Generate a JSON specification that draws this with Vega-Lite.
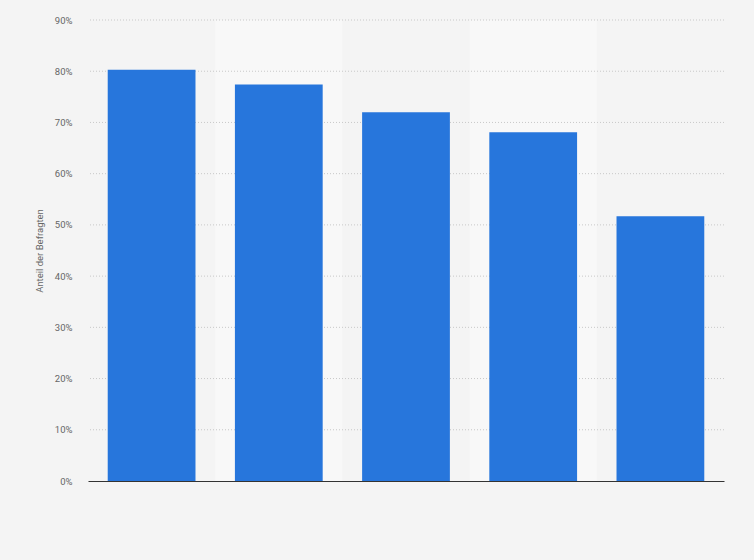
{
  "$schema": "https://vega.github.io/schema/vega-lite/v6.json",
  "autosize": "none",
  "width": 636,
  "height": 461,
  "padding": {"left": 88, "top": 20, "right": 30, "bottom": 79},
  "background": "#f4f4f4",
  "config": {"view": {"stroke": null}, "font": "Roboto"},
  "datasets": {
    "umfrage": [
      {"kategorie": "A", "anteil": 80.3},
      {"kategorie": "B", "anteil": 77.4},
      {"kategorie": "C", "anteil": 72.0},
      {"kategorie": "D", "anteil": 68.1},
      {"kategorie": "E", "anteil": 51.7}
    ],
    "gitter": [
      {"wert": 10}, {"wert": 20}, {"wert": 30}, {"wert": 40}, {"wert": 50},
      {"wert": 60}, {"wert": 70}, {"wert": 80}, {"wert": 90}
    ]
  },
  "data": {"name": "umfrage"},
  "resolve": {"scale": {"x": "independent"}},
  "layer": [
    {
      "transform": [{"filter": "datum.kategorie == 'B' || datum.kategorie == 'D'"}],
      "mark": {"type": "bar", "color": "#f8f8f8", "width": {"band": 1}},
      "encoding": {
        "x": {"field": "kategorie", "type": "nominal", "scale": {"domain": ["A","B","C","D","E"], "paddingInner": 0, "paddingOuter": 0}, "axis": null},
        "y": {"datum": 90, "type": "quantitative", "scale": {"domain": [0, 90]}},
        "y2": {"datum": 0}
      }
    },
    {
      "data": {"name": "gitter"},
      "mark": {"type": "rule", "color": "#c8c8c8", "strokeDash": [1, 2], "strokeWidth": 1},
      "encoding": {
        "y": {"field": "wert", "type": "quantitative"}
      }
    },
    {
      "mark": {"type": "bar", "color": "#2776dc"},
      "encoding": {
        "x": {"field": "kategorie", "type": "nominal", "sort": null,
          "scale": {"paddingInner": 0.31, "paddingOuter": 0.155},
          "axis": {"labels": false, "ticks": false, "title": null, "grid": false, "domainColor": "#333333", "domainWidth": 1.2, "zindex": 3}},
        "y": {"field": "anteil", "type": "quantitative",
          "scale": {"domain": [0, 90]},
          "axis": {"title": "Anteil der Befragten", "titleFontSize": 9.5, "titleFontWeight": "normal", "titleColor": "#666666", "titlePadding": 10,
            "values": [0,10,20,30,40,50,60,70,80,90], "grid": false,
            "labelExpr": "datum.value + '%'", "labelFontSize": 9.5, "labelColor": "#666666", "labelPadding": 16,
            "ticks": false, "domain": false}}
      }
    }
  ]
}
